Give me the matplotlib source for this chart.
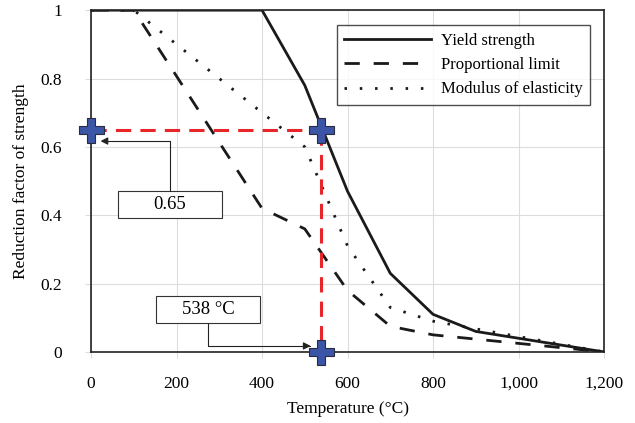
import matplotlib.pyplot as plt
from matplotlib.patches import Rectangle
import numpy as np

plt.rcParams['font.family'] = ['Liberation Serif', 'DejaVu Serif']

# reduction factors for steel at elevated temperature
temp = [0, 100, 200, 300, 400, 500, 600, 700, 800, 900, 1000, 1100, 1200]
yield_strength = [1, 1, 1, 1, 1, 0.78, 0.47, 0.23, 0.11, 0.06, 0.04, 0.02, 0]
prop_limit = [1, 1, 0.807, 0.613, 0.42, 0.36, 0.18, 0.075, 0.05, 0.0375, 0.025, 0.0125, 0]
modulus = [1, 1, 0.9, 0.8, 0.7, 0.6, 0.31, 0.13, 0.09, 0.0675, 0.045, 0.0225, 0]

crit_temp = 538
crit_factor = 0.65

fig = plt.figure(figsize=(6.35, 4.23), dpi=100)
ax = fig.add_axes([0.1433, 0.168, 0.808, 0.808])

ax.plot(temp, yield_strength, color='#1a1a1a', lw=2.0, label='Yield strength')
ax.plot(temp, prop_limit, color='#1a1a1a', lw=2.0, dashes=(5.5, 5), label='Proportional limit')
ax.plot(temp, modulus, color='#1a1a1a', lw=2.0, dashes=(0.9, 4.6), label='Modulus of elasticity')

# critical temperature guides
ax.plot([0, crit_temp], [crit_factor, crit_factor], color='#e8262a', lw=2.2, dashes=(5, 3), zorder=4)
ax.plot([crit_temp, crit_temp], [crit_factor, 0], color='#e8262a', lw=2.2, dashes=(5, 3), zorder=4)
ax.plot([0, crit_temp, crit_temp], [crit_factor, crit_factor, 0], ls='none', marker='P',
        ms=18, mfc='#3b56a6', mec='#2a2a40', mew=0.8, zorder=6, clip_on=False)

# label boxes with elbow arrows
boxes = [('0.65', 63, 0.392, (185, 0.471), (22, 0.617)),
         ('538 \u00b0C', 152, 0.085, (274, 0.085), (514, 0.0175))]
for txt, x0, y0, start, end in boxes:
    ax.add_patch(Rectangle((x0, y0), 243, 0.079, fc='white', ec='#333333', lw=0.8, zorder=5))
    ax.text(x0 + 121.5, y0 + 0.0395, txt, fontsize=13.5, ha='center', va='center', zorder=6)
    ax.annotate('', xy=end, xytext=start,
                arrowprops=dict(arrowstyle='-|>', color='#222222', lw=0.8,
                                connectionstyle='angle,angleA=90,angleB=0,rad=0',
                                shrinkA=0, shrinkB=0, mutation_scale=11), zorder=5)

ax.set_xlim(0, 1200)
ax.set_ylim(0, 1)
ax.set_xticks(np.arange(0, 1201, 200))
ax.set_xticklabels(['0', '200', '400', '600', '800', '1,000', '1,200'])
ax.set_yticks([0, 0.2, 0.4, 0.6, 0.8, 1])
ax.set_yticklabels(['0', '0.2', '0.4', '0.6', '0.8', '1'])
ax.grid(True, color='#dddddd', lw=0.8)
ax.set_axisbelow(True)
ax.tick_params(length=4, color='#dddddd', labelsize=12.5)
ax.tick_params(axis='x', pad=13)
ax.tick_params(axis='y', pad=17)
for s in ax.spines.values():
    s.set_color('#222222')
    s.set_linewidth(1.2)

ax.set_xlabel('Temperature (\u00b0C)', fontsize=12.5, labelpad=7)
ax.set_ylabel('Reduction factor of strength', fontsize=12.5, labelpad=8)

leg = ax.legend(loc='upper right', bbox_to_anchor=(0.973, 0.956), borderaxespad=0, fontsize=12,
                frameon=True, fancybox=False, edgecolor='#222222', handlelength=5.2,
                borderpad=0.45, labelspacing=0.5, handletextpad=0.6)
leg.get_frame().set_linewidth(1.0)

fig.savefig('out.png', dpi=100)
